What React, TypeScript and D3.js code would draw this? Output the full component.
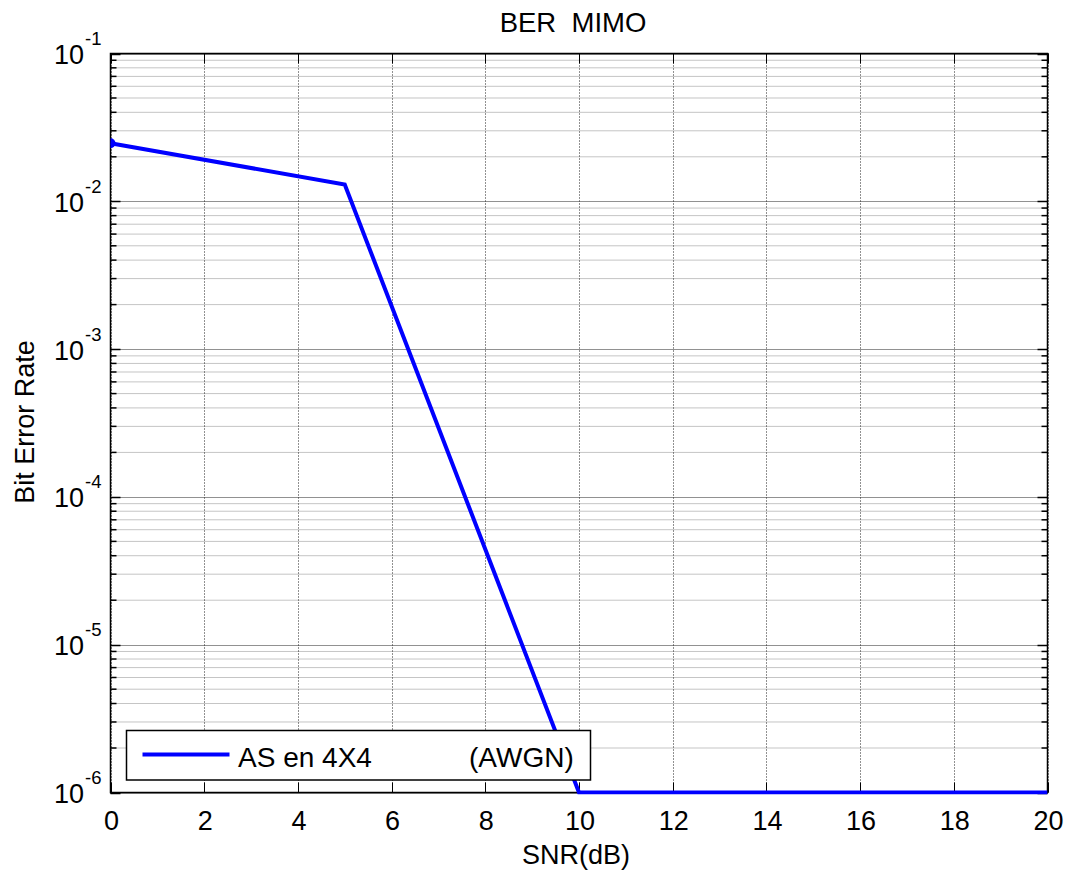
import React from "react";
import * as d3 from "d3";

// SNR sweep (dB) and measured bit error rate for the AS 4X4 system in AWGN
const snrDb = [0, 5, 10, 15, 20];
const berAsAwgn = [0.0247, 0.013, 1e-6, 1e-6, 1e-6];

const xTicks = [0, 2, 4, 6, 8, 10, 12, 14, 16, 18, 20];
const yDecades = [-6, -5, -4, -3, -2, -1];
const minorMultipliers = [2, 3, 4, 5, 6, 7, 8, 9];

const titleText = "BER  MIMO";
const xLabel = "SNR(dB)";
const yLabel = "Bit Error Rate";
const legendName = "AS en 4X4";
const legendSuffix = "(AWGN)";

const W = 1066;
const H = 872;
const box = { left: 110.5, right: 1047.5, top: 53.5, bottom: 792.5 };
const FONT = "'Liberation Sans', Arial, Helvetica, sans-serif";
const BLUE = "#0000ff";

export default function App() {
  const x = d3.scaleLinear().domain([0, 20]).range([box.left, box.right]);
  const y = d3.scaleLog().domain([1e-6, 1e-1]).range([box.bottom, box.top]);

  const minorVals: number[] = [];
  yDecades.slice(0, -1).forEach((e) => {
    minorMultipliers.forEach((m) => minorVals.push(m * Math.pow(10, e)));
  });

  const line = d3
    .line<number>()
    .x((_, i) => x(snrDb[i]))
    .y((d) => y(d));

  const pathD = line(berAsAwgn) || "";

  const majorLen = 10;
  const minorLen = 6;

  return (
    <div style={{ position: "fixed", left: 0, top: 0 }}>
      <svg width={W} height={H} style={{ display: "block", background: "#fff" }} fontFamily={FONT}>
        <defs>
          <clipPath id="plotClip">
            <rect x={box.left} y={box.top} width={box.right - box.left} height={box.bottom - box.top + 2} />
          </clipPath>
        </defs>
        <rect x={0} y={0} width={W} height={H} fill="#fff" />

        {/* minor horizontal grid */}
        {minorVals.map((v, i) => (
          <line key={"mg" + i} x1={box.left} x2={box.right} y1={y(v)} y2={y(v)}
            stroke="#8a8a8a" strokeWidth={1} strokeDasharray="1,1" />
        ))}
        {/* decade grid */}
        {yDecades.map((e) => (
          <line key={"dg" + e} x1={box.left} x2={box.right} y1={Math.round(y(Math.pow(10, e))) + 0.5}
            y2={Math.round(y(Math.pow(10, e))) + 0.5} stroke="#222" strokeWidth={1} strokeDasharray="1,1" />
        ))}
        {/* vertical grid */}
        {xTicks.map((t) => (
          <line key={"vg" + t} x1={Math.round(x(t)) + 0.5} x2={Math.round(x(t)) + 0.5} y1={box.top} y2={box.bottom}
            stroke="#222" strokeWidth={1} strokeDasharray="1,2" />
        ))}

        {/* ticks */}
        {xTicks.map((t) => {
          const px = Math.round(x(t)) + 0.5;
          return (
            <g key={"xt" + t}>
              <line x1={px} x2={px} y1={box.bottom} y2={box.bottom - majorLen} stroke="#000" />
              <line x1={px} x2={px} y1={box.top} y2={box.top + majorLen} stroke="#000" />
            </g>
          );
        })}
        {yDecades.map((e) => {
          const py = Math.round(y(Math.pow(10, e))) + 0.5;
          return (
            <g key={"yt" + e}>
              <line x1={box.left} x2={box.left + majorLen} y1={py} y2={py} stroke="#000" strokeWidth={1.5} />
              <line x1={box.right} x2={box.right - majorLen} y1={py} y2={py} stroke="#000" strokeWidth={1.5} />
            </g>
          );
        })}
        {minorVals.map((v, i) => {
          const py = y(v);
          return (
            <g key={"ymt" + i}>
              <line x1={box.left} x2={box.left + minorLen} y1={py} y2={py} stroke="#000" strokeWidth={1.5} />
              <line x1={box.right} x2={box.right - minorLen} y1={py} y2={py} stroke="#000" strokeWidth={1.5} />
            </g>
          );
        })}

        {/* axes box */}
        <rect x={box.left} y={box.top} width={box.right - box.left} height={box.bottom - box.top}
          fill="none" stroke="#000" strokeWidth={1.5} />

        {/* data */}
        <g clipPath="url(#plotClip)">
          <path d={pathD} fill="none" stroke={BLUE} strokeWidth={4} strokeLinejoin="miter" />
          <circle cx={x(snrDb[0])} cy={y(berAsAwgn[0])} r={5} fill={BLUE} />
        </g>

        {/* x tick labels */}
        {xTicks.map((t) => (
          <text key={"xl" + t} x={x(t) + 1} y={829.5} fontSize={27} textAnchor="middle" fill="#000">
            {t}
          </text>
        ))}
        {/* y tick labels */}
        {yDecades.map((e) => {
          const py = y(Math.pow(10, e));
          return (
            <g key={"yl" + e}>
              <text x={84} y={py + 10.5} fontSize={27} textAnchor="end" fill="#000">10</text>
              <text x={85} y={py - 8.5} fontSize={18.5} textAnchor="start" fill="#000">{String(e)}</text>
            </g>
          );
        })}

        {/* title and axis labels */}
        <text x={573} y={31.5} fontSize={27.5} textAnchor="middle" fill="#000" style={{ whiteSpace: "pre" }}>
          {titleText}
        </text>
        <text x={576} y={864} fontSize={27} textAnchor="middle" fill="#000">{xLabel}</text>
        <text transform="translate(33.5,422) rotate(-90)" fontSize={27} textAnchor="middle" fill="#000">
          {yLabel}
        </text>

        {/* legend */}
        <rect x={126.5} y={730.5} width={464} height={49.5} fill="#fff" stroke="#000" strokeWidth={1.5} />
        <line x1={142.5} x2={229.5} y1={754.5} y2={754.5} stroke={BLUE} strokeWidth={4} />
        <text x={238} y={767} fontSize={28} fill="#000">{legendName}</text>
        <text x={469} y={767} fontSize={28} fill="#000">{legendSuffix}</text>
      </svg>
    </div>
  );
}
